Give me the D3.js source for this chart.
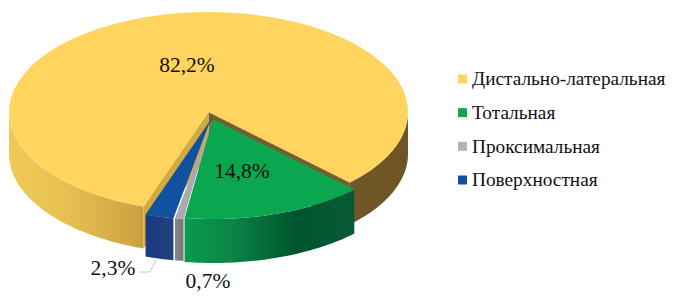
<!DOCTYPE html>
<html>
<head>
<meta charset="utf-8">
<script src="https://cdn.jsdelivr.net/npm/d3@7"></script>
<style>
  html, body { margin: 0; padding: 0; background: #fff; }
  svg { display: block; }
  text { font-family: "Liberation Serif", serif; fill: #111; }
</style>
</head>
<body>
<svg id="chart" width="678" height="303"></svg>
<script>
const categories = ["Дистально-латеральная", "Тотальная", "Проксимальная", "Поверхностная"];
const values = [82.2, 14.8, 0.7, 2.3];
const valueLabels = ["82,2%", "14,8%", "0,7%", "2,3%"];
const topColours = ["#ffd45f", "#0ba650", "#a9a9ae", "#10529f"];
const legendColours = ["#ffd45f", "#0ba650", "#b4b4b4", "#10529f"];

const width = 678;
const height = 303;
const startAngle = (199 * Math.PI) / 180;

// how far each slice is pulled out of the pie, and its wall height
const offsets = [[0, 0], [4.5, 7], [3.5, 8], [2, 8]];
const depths = [42, 44, 42, 42];

const svg = d3.select("#chart");
const defs = svg.append("defs");

// the pie plane squashed to an ellipse
const x = d3.scaleLinear().domain([-1, 1]).range([9, 408]);
const y = d3.scaleLinear().domain([-1, 1]).range([12, 212]);

const slices = d3
  .pie()
  .sort(null)
  .startAngle(startAngle)
  .endAngle(startAngle + 2 * Math.PI)(values);

const rimPoints = (from, to, off, drop) =>
  d3.range(0, 61).map((k) => {
    const a = from + ((to - from) * k) / 60;
    return [x(Math.sin(a)) + off[0], y(-Math.cos(a)) + off[1] + drop];
  });

const line = d3.line();

const addGradient = (id, x1, x2, stops) => {
  const g = defs
    .append("linearGradient")
    .attr("id", id)
    .attr("gradientUnits", "userSpaceOnUse")
    .attr("x1", x1)
    .attr("x2", x2)
    .attr("y1", 0)
    .attr("y2", 0);
  stops.forEach((s) => g.append("stop").attr("offset", s[0]).attr("stop-color", s[1]));
};

addGradient("wallYellow", 9, 408, [
  [0, "#f0ca58"],
  [0.15, "#e6bf52"],
  [0.34, "#c9a03f"],
  [0.35, "#7d5f2c"],
  [1, "#6f5426"],
]);
addGradient("wallGreen", 185, 355, [
  [0, "#0a9a4f"],
  [0.25, "#0a8746"],
  [0.65, "#00552f"],
  [1, "#075a35"],
]);
addGradient("wallGrey", 172, 184, [
  [0, "#8a8a90"],
  [1, "#77777c"],
]);
addGradient("wallBlue", 144, 172, [
  [0, "#1b3a80"],
  [1, "#20407f"],
]);
const wallFills = ["url(#wallYellow)", "url(#wallGreen)", "url(#wallGrey)", "url(#wallBlue)"];

// outer wall, front half of the ellipse only
const drawWall = (from, to, off, depth, fill) => {
  const a0 = Math.max(from, Math.PI / 2);
  const a1 = Math.min(to, (3 * Math.PI) / 2);
  if (a1 <= a0) return;
  const upper = rimPoints(a0, a1, off, 0);
  const lower = rimPoints(a0, a1, off, depth).reverse();
  svg.append("path").attr("d", line(upper.concat(lower)) + "Z").attr("fill", fill);
};

const drawCut = (angle, depth, fill) => {
  const apex = [x(0), y(0)];
  const rim = [x(Math.sin(angle)), y(-Math.cos(angle))];
  svg
    .append("path")
    .attr("d", line([apex, rim, [rim[0], rim[1] + depth], [apex[0], apex[1] + depth]]) + "Z")
    .attr("fill", fill);
};

const drawTop = (from, to, off, fill) => {
  const apex = [x(0) + off[0], y(0) + off[1]];
  const rim = rimPoints(from, to, off, 0);
  svg.append("path").attr("d", line([apex].concat(rim)) + "Z").attr("fill", fill);
};

// the yellow slice wraps past a full turn so its wall comes in two parts
const yellow = slices[0];
drawWall(yellow.startAngle, (3 * Math.PI) / 2, offsets[0], depths[0], wallFills[0]);
drawWall(Math.PI / 2, yellow.endAngle - 2 * Math.PI, offsets[0], depths[0], wallFills[0]);
drawCut(yellow.endAngle, depths[0], "#7a5c2c");
drawCut(yellow.startAngle, depths[0], "#d2aa3e");
drawTop(yellow.startAngle, yellow.endAngle, offsets[0], topColours[0]);

// back to front for the pulled out slices
[3, 2, 1].forEach((i) => {
  const d = slices[i];
  const turn = d.startAngle >= 2 * Math.PI ? 2 * Math.PI : 0;
  const from = d.startAngle - turn;
  const to = d.endAngle - turn;
  drawWall(from, to, offsets[i], depths[i], wallFills[i]);
  drawTop(from, to, offsets[i], topColours[i]);
});

// value labels
const labelPos = [[187, 64], [242, 170], [208, 280], [113, 267]];
svg
  .selectAll("text.value")
  .data(valueLabels)
  .join("text")
  .attr("class", "value")
  .attr("x", (d, i) => labelPos[i][0])
  .attr("y", (d, i) => labelPos[i][1])
  .attr("dy", "0.35em")
  .attr("text-anchor", "middle")
  .style("font-size", "21.5px")
  .text((d) => d);

// leader of the 2,3% label
svg
  .append("path")
  .attr("d", line([[140, 272], [150, 272], [156, 260]]))
  .attr("fill", "none")
  .attr("stroke", "#c4c4c8")
  .attr("stroke-width", 1);

// legend
const legendY = d3.scalePoint().domain(categories).range([79, 180]);
const legend = svg
  .selectAll("g.legend")
  .data(categories)
  .join("g")
  .attr("class", "legend")
  .attr("transform", (d) => `translate(458,${legendY(d)})`);
legend
  .append("rect")
  .attr("y", -4.5)
  .attr("width", 9)
  .attr("height", 9)
  .attr("fill", (d, i) => legendColours[i]);
legend
  .append("text")
  .attr("x", 14)
  .attr("dy", "0.33em")
  .style("font-size", "19.3px")
  .text((d) => d);
</script>
</body>
</html>
